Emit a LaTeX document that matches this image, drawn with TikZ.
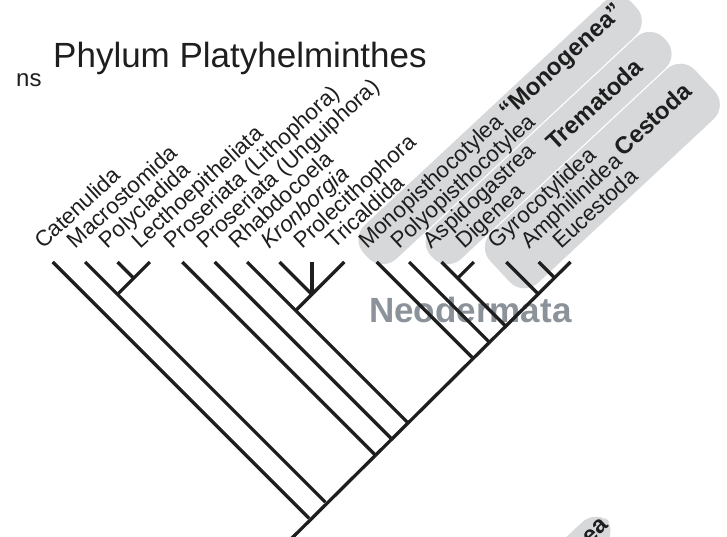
\documentclass[tikz,border=0pt]{standalone}
\usepackage{fontspec}
\setmainfont{Liberation Sans}
\definecolor{bandgray}{RGB}{214,216,218}
\definecolor{neogray}{RGB}{140,146,153}
\definecolor{inkblack}{RGB}{30,30,30}
\newcommand\labsize{\fontsize{22.3}{24}\selectfont}
\newcommand\bigbold{\fontsize{24}{26}\selectfont\bfseries}
\begin{document}
\begin{tikzpicture}[x=1pt,y=1pt,
  branch/.style={line width=3.3pt, line cap=butt, line join=miter, color=inkblack},
  lab/.style={anchor=base west, inner sep=0pt, outer sep=0pt, rotate=42.5, font=\labsize, text=inkblack},
  boldlab/.style={anchor=base west, inner sep=0pt, outer sep=0pt, rotate=42.5, font=\bigbold, text=inkblack},
  bandfill/.style={fill=bandgray, rounded corners=20pt}]
\useasboundingbox (0,0) rectangle (727,-537);
\clip (0,0) rectangle (727,-537);

% ---------- grey bands ----------
\begin{scope}[shift={(367.1,-249.5)}, rotate=43]
  \fill[bandfill] (-5,-26.8) rectangle (362,19.5);
\end{scope}
\begin{scope}[shift={(431.9,-249.5)}, rotate=43]
  \fill[bandfill] (-5,-26.8) rectangle (314,16.0);
\end{scope}
\begin{scope}[shift={(496.7,-249.5)}, rotate=43]
  \fill[bandfill] (-12.6,-52.6) rectangle (267.4,16.0);
\end{scope}
\begin{scope}[shift={(590,-545)}, rotate=43]
  \fill[bandfill] (-150,-10) rectangle (30,22);
\end{scope}

% ---------- titles ----------
\node[anchor=base west, inner sep=0pt, font=\fontsize{35}{37}\selectfont, text=inkblack] (title) at (53,-68) {Phylum Platyhelminthes};
\node[anchor=base west, inner sep=0pt, font=\fontsize{24}{26}\selectfont, text=inkblack] (ns) at (16,-87) {ns};
\node[anchor=base west, inner sep=0pt, font=\fontsize{35}{37}\selectfont\bfseries, text=neogray] (neo) at (369,-322) {Neodermata};

% ---------- tips ----------
\coordinate (t0) at (52.7,-262);
\coordinate (t1) at (85.1,-262);
\coordinate (t2) at (117.5,-262);
\coordinate (t3) at (149.9,-262);
\coordinate (t4) at (182.3,-262);
\coordinate (t5) at (214.7,-262);
\coordinate (t6) at (247.1,-262);
\coordinate (t7) at (279.5,-262);
\coordinate (t8) at (311.9,-262);
\coordinate (t9) at (344.3,-262);
\coordinate (t10) at (376.7,-262);
\coordinate (t11) at (409.1,-262);
\coordinate (t12) at (441.5,-262);
\coordinate (t13) at (473.9,-262);
\coordinate (t14) at (506.3,-262);
\coordinate (t15) at (538.7,-262);
\coordinate (t16) at (570.5,-262);

% ---------- junctions ----------
\coordinate (j0) at (309.0,-518.3);
\coordinate (j1) at (325.4,-502.3);
\coordinate (j4) at (374.4,-454.1);
\coordinate (j5) at (390.8,-438.1);
\coordinate (j6) at (407.2,-422.1);
\coordinate (j10) at (472.6,-357.9);
\coordinate (j11) at (489.0,-341.9);
\coordinate (j12) at (505.3,-325.8);
\coordinate (j14) at (538.1,-293.8);
\coordinate (j15) at (554.4,-277.7);
\coordinate (root) at (289,-541);
\coordinate (f23) at (133.7,-278.2);
\coordinate (m1) at (117.5,-294.4);
\coordinate (f789) at (311.9,-294.4);
\coordinate (r6) at (295.7,-310.6);
\coordinate (f1213) at (457.7,-278.2);

% ---------- branches ----------
\draw[branch] (t16) -- (root);
\draw[branch] (t0) -- (j0);
\draw[branch] (t1) -- (j1);
\draw[branch] (t2) -- (f23);
\draw[branch] (t3) -- (m1);
\draw[branch] (t4) -- (j4);
\draw[branch] (t5) -- (j5);
\draw[branch] (t6) -- (j6);
\draw[branch] (t7) -- (f789);
\draw[branch] (t8) -- (f789);
\draw[branch] (t9) -- (r6);
\draw[branch] (t10) -- (j10);
\draw[branch] (t11) -- (j11);
\draw[branch] (t12) -- (j12);
\draw[branch] (t13) -- (f1213);
\draw[branch] (t14) -- (j14);
\draw[branch] (t15) -- (j15);

% ---------- labels ----------
\node[lab] (l0) at (43.1,-249.5) {Catenulida};
\node[lab] (l1) at (75.5,-249.5) {Macrostomida};
\node[lab] (l2) at (107.9,-249.5) {Polycladida};
\node[lab] (l3) at (140.3,-249.5) {Lecthoepitheliata};
\node[lab] (l4) at (172.7,-249.5) {Proseriata (Lithophora)};
\node[lab] (l5) at (205.1,-249.5) {Proseriata (Unguiphora)};
\node[lab] (l6) at (237.5,-249.5) {Rhabdocoela};
\node[lab] (l7) at (269.9,-249.5) {\itshape Kronborgia};
\node[lab] (l8) at (302.3,-249.5) {Prolecithophora};
\node[lab] (l9) at (334.7,-249.5) {Tricaldida};
\node[lab] (l10) at (367.1,-249.5) {Monopisthocotylea {\bigbold “Monogenea”}};
\node[lab] (l11) at (399.5,-249.5) {Polyopisthocotylea};
\node[lab] (l12) at (431.9,-249.5) {Aspidogastrea};
\node[lab] (l13) at (464.3,-249.5) {Digenea};
\node[lab] (l14) at (496.7,-249.5) {Gyrocotylidea};
\node[lab] (l15) at (529.1,-249.5) {Amphilinidea};
\node[lab] (l16) at (561.5,-249.5) {Eucestoda};
\node[boldlab] (trem) at (555.0,-151.6) {Trematoda};
\node[boldlab] (cest) at (623.5,-157.5) {Cestoda};
\node[boldlab] (eapart) at (590,-545) {ea};
\end{tikzpicture}
\end{document}
